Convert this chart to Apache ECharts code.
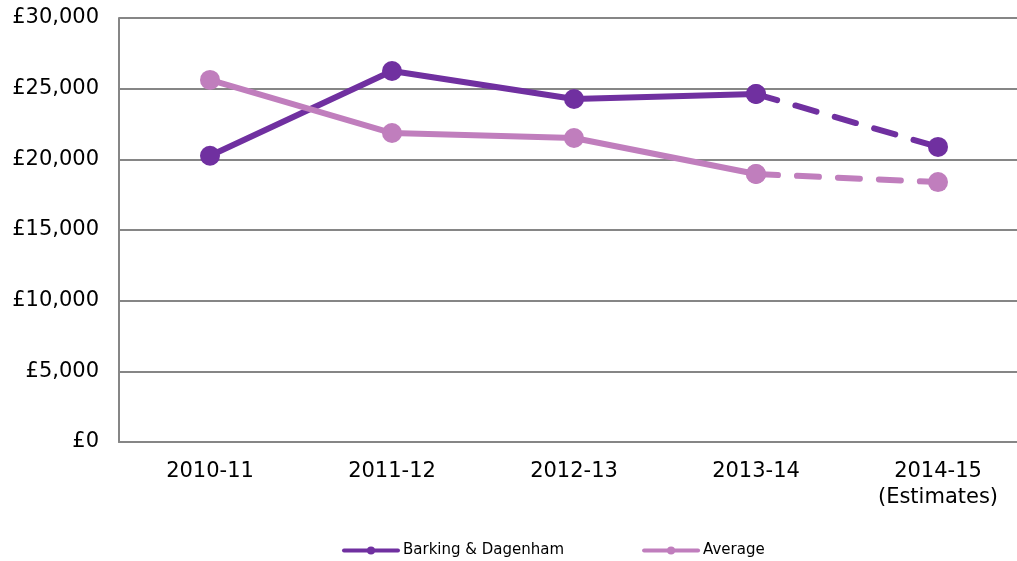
<!DOCTYPE html>
<html><head><meta charset="utf-8">
<script src="https://cdn.jsdelivr.net/npm/echarts@6/dist/echarts.min.js"></script>
<style>html,body{margin:0;padding:0;background:#fff;overflow:hidden;width:1017px;height:561px}#c{width:1029px;height:561px}</style>
</head><body><div id="c"></div>
<script>
const categories = ['2010-11','2011-12','2012-13','2013-14','2014-15\n(Estimates)'];
const barking = [20250, 26250, 24270, 24620, 20880];
const average = [25620, 21860, 21510, 18960, 18390];
const yTicks = [0, 5000, 10000, 15000, 20000, 25000, 30000];
const dark = '#7030A0', light = '#C07EBD';
const solidPart = a => a.map((v,i)=> i<=3 ? v : null);
const dashPart = a => a.map((v,i)=> i>=3 ? v : null);
const chart = echarts.init(document.getElementById('c'));
const font = 'DejaVu Sans, Verdana, sans-serif';
function mk(name, data, color, dashed){
  return {name, type:'line', data, symbol:'circle', symbolSize:20, connectNulls:false,
    itemStyle:{color}, lineStyle:{color, width:6, type: dashed ? [22,19] : 'solid', cap:'round'},
    showSymbol:true, z: dashed?2:3, animation:false};
}
chart.setOption({
  animation:false,
  grid:{left:119, top:18, width:910, height:424, containLabel:false},
  xAxis:{type:'category', data:categories, boundaryGap:true,
    axisLine:{lineStyle:{color:'#868686', width:2}}, axisTick:{show:false},
    axisLabel:{color:'#000', fontSize:21, fontFamily:font, margin:17, lineHeight:26}},
  yAxis:{type:'value', min:0, max:30000, interval:5000,
    axisLine:{show:true, lineStyle:{color:'#868686', width:2}}, axisTick:{show:false},
    splitLine:{lineStyle:{color:'#868686', width:2}},
    axisLabel:{color:'#000', fontSize:21, fontFamily:font, margin:20,
      formatter:v=> yTicks.includes(v) ? '£' + v.toLocaleString('en-GB') : ''}},
  legend:{top:538, left:337, itemWidth:54, itemHeight:10, itemGap:78,
    data:[{name:'Barking & Dagenham'},{name:'Average'}],
    textStyle:{fontSize:15, fontFamily:font, color:'#000'},
    lineStyle:{width:4, type:'solid'}},
  series:[
    mk('Barking & Dagenham', solidPart(barking), dark, false),
    mk('Average', solidPart(average), light, false),
    mk('Barking & Dagenham', dashPart(barking), dark, true),
    mk('Average', dashPart(average), light, true)
  ]
});
</script></body></html>
